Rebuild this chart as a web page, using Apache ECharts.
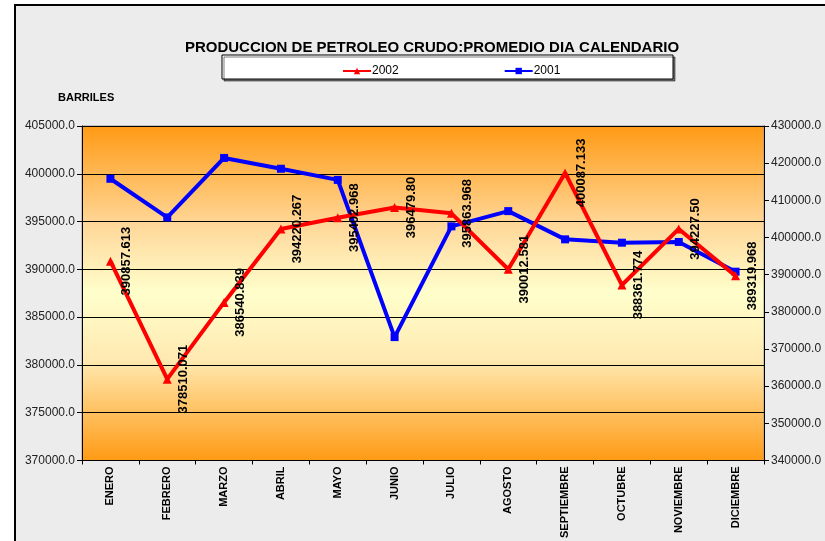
<!DOCTYPE html>
<html>
<head>
<meta charset="utf-8">
<script src="https://cdn.jsdelivr.net/npm/echarts@6/dist/echarts.min.js"></script>
<style>
  html, body { margin: 0; padding: 0; background: #fff; }
  #chart { width: 825px; height: 541px; }
</style>
</head>
<body>
<div id="chart"></div>
<script>
const MONTHS = ['ENERO', 'FEBRERO', 'MARZO', 'ABRIL', 'MAYO', 'JUNIO', 'JULIO', 'AGOSTO',
  'SEPTIEMBRE', 'OCTUBRE', 'NOVIEMBRE', 'DICIEMBRE'];
const PROD_2002 = [390857.613, 378510.071, 386540.839, 394220.267, 395402.968, 396479.80,
  395863.968, 390012.581, 400087.133, 388361.774, 394227.50, 389319.968];
const LABELS_2002 = ['390857.613', '378510.071', '386540.839', '394220.267', '395402.968', '396479.80',
  '395863.968', '390012.581', '400087.133', '388361.774', '394227.50', '389319.968'];
const PROD_2001 = [415800, 405400, 421400, 418500, 415500, 373200,
  403000, 407100, 399500, 398600, 398800, 390800];

const FONT = 'Arial, "Liberation Sans", sans-serif';

const chart = echarts.init(document.getElementById('chart'), null, { renderer: 'canvas' });

chart.setOption({
  backgroundColor: '#fff',
  animation: false,
  graphic: [
    {
      type: 'rect', z: -10, silent: true,
      shape: { x: 15, y: 5, width: 900, height: 700 },
      style: { fill: '#ececec', stroke: '#000', lineWidth: 2 }
    },
    {
      type: 'rect', z: 0, silent: true,
      shape: { x: 222, y: 55, width: 451, height: 24 },
      style: { fill: '#fff', stroke: '#000', lineWidth: 1, shadowColor: 'rgba(0,0,0,0.5)', shadowOffsetX: 2, shadowOffsetY: 2 }
    },
    {
      type: 'text', left: 58, top: 92, silent: true,
      style: { text: 'BARRILES', font: 'bold 11px ' + FONT, fill: '#000' }
    }
  ],
  title: {
    text: 'PRODUCCION DE PETROLEO CRUDO:PROMEDIO DIA CALENDARIO',
    left: 427, top: 35, textAlign: 'center',
    textStyle: { fontFamily: FONT, fontSize: 15, fontWeight: 'bold', color: '#000' }
  },
  legend: {
    left: 337, top: 60, itemGap: 105, itemWidth: 28, itemHeight: 8,
    z: 5,
    textStyle: { fontFamily: FONT, fontSize: 12, color: '#000', padding: [0, 0, 0, -4] },
    data: ['2002', '2001']
  },
  grid: {
    left: 82, right: 61, top: 126, bottom: 79,
    show: true,
    borderWidth: 1, borderColor: '#999',
    backgroundColor: {
      type: 'linear', x: 0, y: 0, x2: 0, y2: 1,
      colorStops: [
        { offset: 0, color: '#ff9a14' },
        { offset: 0.3, color: '#ffd89a' },
        { offset: 0.5, color: '#ffffcc' },
        { offset: 0.7, color: '#ffe9b0' },
        { offset: 1, color: '#ff9a14' }
      ]
    }
  },
  xAxis: {
    type: 'category',
    data: MONTHS,
    boundaryGap: true,
    axisLine: { lineStyle: { color: '#000', width: 1 } },
    axisTick: { show: true, alignWithLabel: false, length: 4, lineStyle: { color: '#000' } },
    axisLabel: {
      rotate: 90, interval: 0, margin: 6,
      fontFamily: FONT, fontSize: 11, fontWeight: 'bold', color: '#000'
    }
  },
  yAxis: [
    {
      type: 'value', min: 370000, max: 405000, interval: 5000,
      axisLine: { show: true, lineStyle: { color: '#000' } },
      axisTick: { show: true, length: 5, lineStyle: { color: '#000' } },
      axisLabel: {
        margin: 7, fontFamily: FONT, fontSize: 12, color: '#222',
        formatter: v => v.toFixed(1)
      },
      splitLine: { show: true, lineStyle: { color: '#000', width: 1 } }
    },
    {
      type: 'value', min: 340000, max: 430000, interval: 10000,
      axisLine: { show: true, lineStyle: { color: '#000' } },
      axisTick: { show: true, length: 5, lineStyle: { color: '#000' } },
      axisLabel: {
        margin: 7, fontFamily: FONT, fontSize: 12, color: '#222',
        formatter: v => v.toFixed(1)
      },
      splitLine: { show: false }
    }
  ],
  series: [
    {
      name: '2002',
      type: 'line',
      yAxisIndex: 0,
      data: PROD_2002,
      symbol: 'triangle',
      symbolSize: 9,
      lineStyle: { color: '#ff0000', width: 4 },
      itemStyle: { color: '#ff0000' },
      z: 3,
      label: {
        show: true,
        position: 'right',
        distance: 12,
        rotate: 90,
        align: 'center',
        verticalAlign: 'middle',
        fontFamily: FONT, fontSize: 13, fontWeight: 'bold', color: '#000',
        formatter: p => LABELS_2002[p.dataIndex]
      }
    },
    {
      name: '2001',
      type: 'line',
      yAxisIndex: 1,
      data: PROD_2001,
      symbol: 'rect',
      symbolSize: 8,
      lineStyle: { color: '#0000ff', width: 4 },
      itemStyle: { color: '#0000ff' },
      z: 2
    }
  ]
});
</script>
</body>
</html>
